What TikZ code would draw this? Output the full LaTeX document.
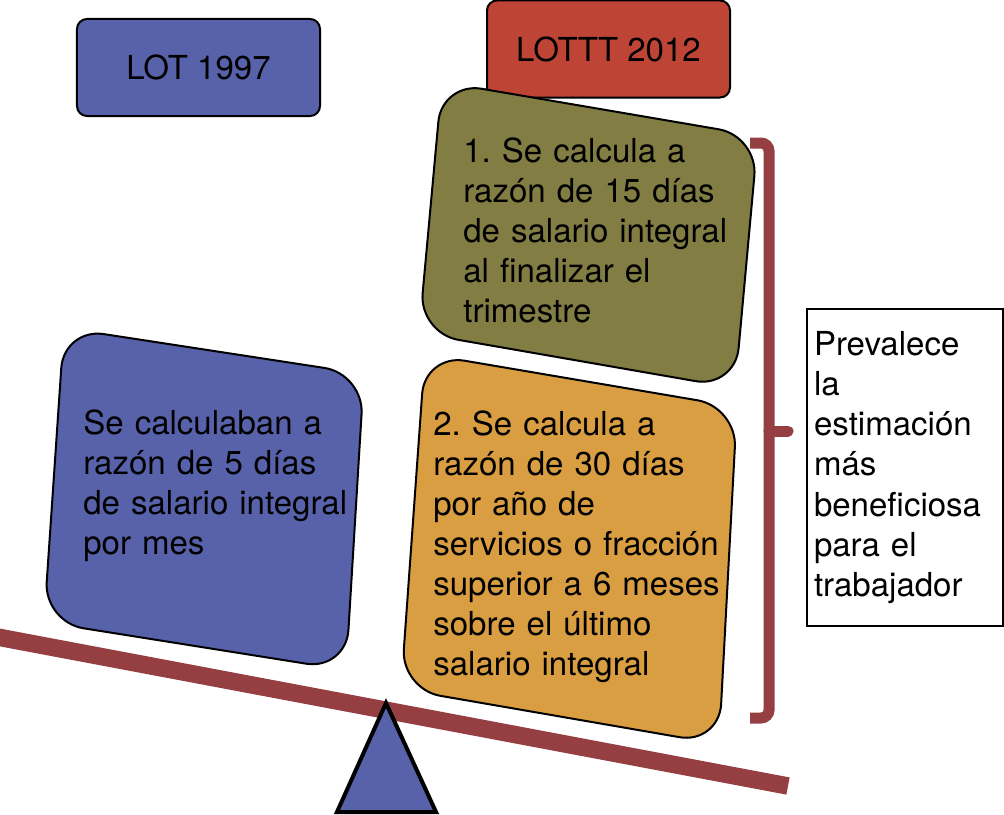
\documentclass[tikz,border=0pt]{standalone}
\usepackage{fontspec}
\setmainfont{TeX Gyre Heros}
\usepackage{tikz}
\usetikzlibrary{
    positioning
}
\definecolor{lotblue}{HTML}{5762AA}
\definecolor{lotttred}{HTML}{BE4535}
\definecolor{olivebox}{HTML}{817D43}
\definecolor{orangebox}{HTML}{DA9E42}
\definecolor{beamred}{HTML}{963F43}
\newcommand{\bodyfont}{\fontsize{18.8pt}{22.8pt}\selectfont\frenchspacing}
\tikzset{
    law header/.style={
        rectangle, draw=black, fill=#1,
        rounded corners=2mm, line width=0.4mm,
        minimum width=48.6mm, minimum height=19.4mm,
        font=\bodyfont
    },
    slanted box/.style={
        draw=black, fill=#1, line width=0.4mm,
        rounded corners=8mm
    },
    box text/.style={
        anchor=base west, inner sep=0pt,
        text width=70mm, align=left,
        font=\bodyfont
    },
}

\begin{document}
\begin{tikzpicture}[
    x=0.2mm, y=-0.2mm,
    beam/.style={draw=beamred, line width=3.5mm},
    brace line/.style={draw=beamred, line width=2.2mm},
    verdict/.style={rectangle, draw=black, fill=white, line width=0.4mm, inner xsep=1.4mm,
                    text width=36.4mm, minimum height=63.4mm, align=left, font=\bodyfont},
]
    \useasboundingbox (0,0) rectangle (1004,815);

    \draw[beam] (-10,635.6) -- (788,786);
    \draw[fill=lotblue, line width=0.8mm] (386,703) -- (436,812) -- (337,812) -- cycle;

    \node[law header=lotblue] (lot) at (198.5,67.5) {LOT 1997};
    \node[law header=lotttred] (lottt) at (608.5,49) {LOTTT 2012};

    \draw[slanted box=lotblue] (64,328) -- (364,374) -- (346,670) -- (44,622) -- cycle;
    \draw[slanted box=olivebox] (442,82) -- (758,136) -- (735,388) -- (419,333) -- cycle;
    \draw[slanted box=orangebox] (425,354) -- (737,407) -- (719,744) -- (401,689) -- cycle;

    \node[box text] (old rule) at (83,434) {Se calculaban a\\razón de 5 días\\de salario integral\\por mes};
    \node[box text] (rule one) at (463,162) {1. Se calcula a\\razón de 15 días\\de salario integral\\al finalizar el\\trimestre};
    \node[box text] (rule two) at (433,435) {2. Se calcula a\\razón de 30 días\\por año de\\servicios o fracción\\superior a 6 meses\\sobre el último\\salario integral};

    \draw[brace line, rounded corners=1.6mm] (750,143) -- (769,143) -- (769,718) -- (750,718);
    \draw[brace line, line cap=round] (769,431) -- (788,431);

    \node[verdict, anchor=north west] (best) at (806,308) {Prevalece\\la\\estimación\\más\\beneficiosa\\para el\\trabajador};
\end{tikzpicture}
\end{document}
